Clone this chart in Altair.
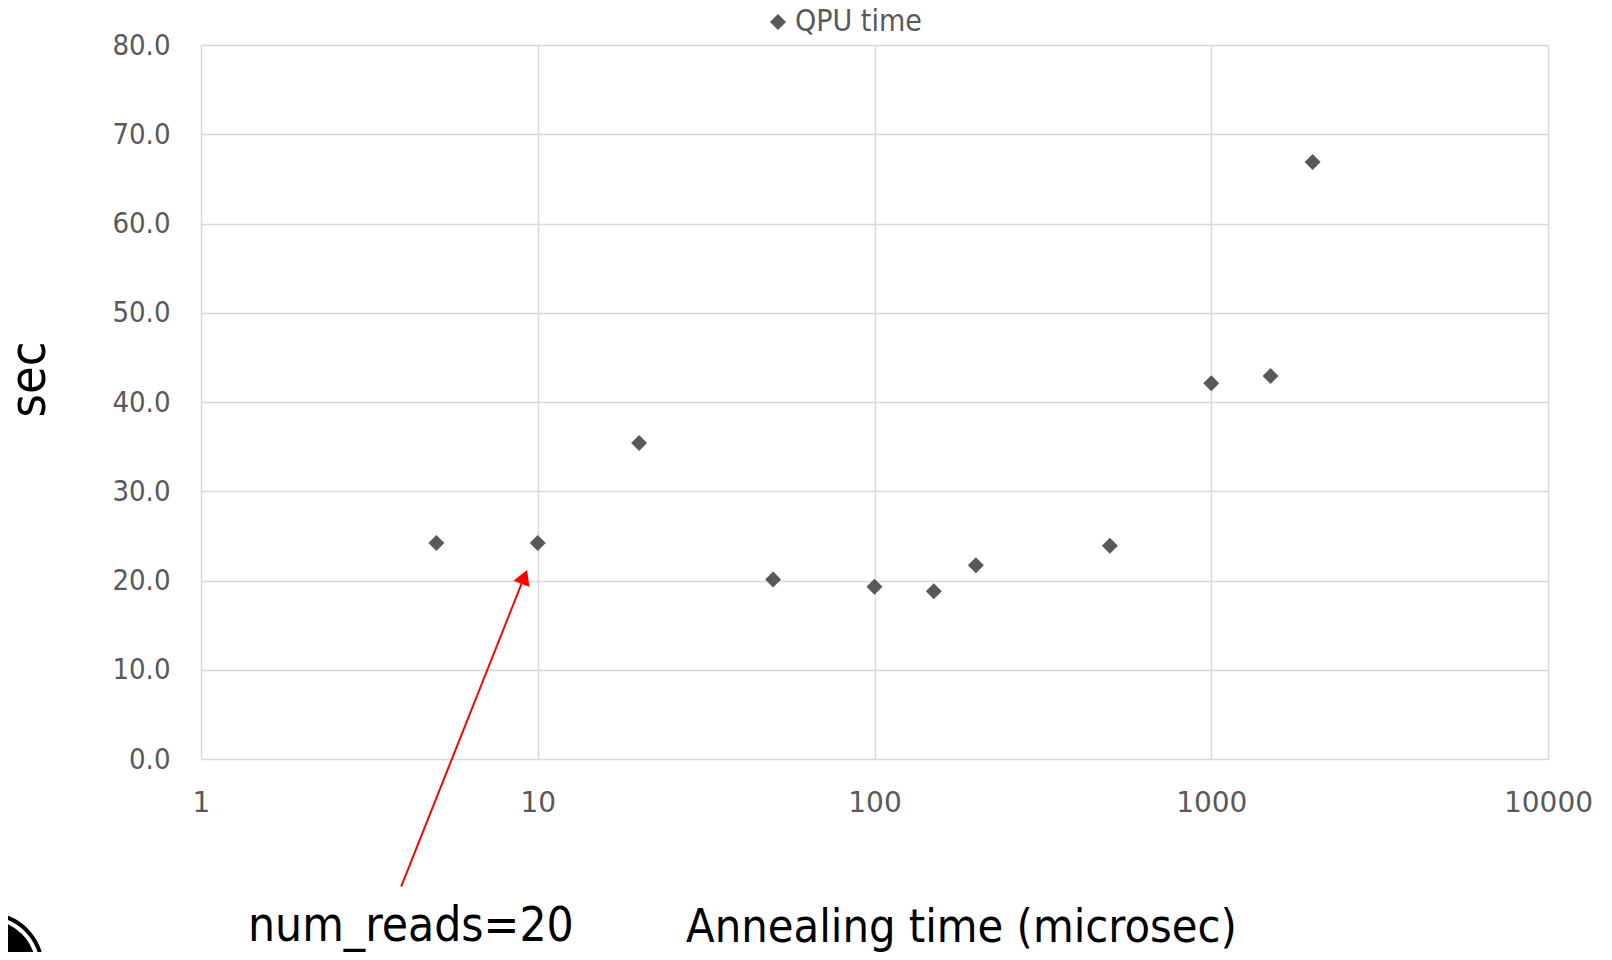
import altair as alt
import pandas as pd

# ---- data ----
anneal_time = [5, 10, 20, 50, 100, 150, 200, 500, 1000, 1500, 2000]
qpu_time = [24.2, 24.2, 35.4, 20.1, 19.3, 18.8, 21.7, 23.9, 42.1, 42.9, 66.9]
series_name = ["QPU time"] * len(anneal_time)

x_ticks = [1, 10, 100, 1000, 10000]
y_ticks = [0, 10, 20, 30, 40, 50, 60, 70, 80]

# annotation (arrow) in data coordinates
arrow_x = [3.93, 9.12]
arrow_y = [-14.3, 20.4]
arrow_head_x = [9.12]
arrow_head_y = [20.4]
note_x = [4.2]
note_y = [-20.4]
note_text = ["num_reads=20"]

FONT = "DejaVu Sans Condensed, DejaVu Sans"
XFONT = "DejaVu Sans"
GRID = "#d9d9d9"
GRAY = "#595959"
W, H = 1347, 714
X_TITLE = "Annealing time (microsec)"
Y_TITLE = "sec"

df = pd.DataFrame({"anneal": anneal_time, "qpu": qpu_time, "series": series_name})
arrow_df = pd.DataFrame({"anneal": arrow_x, "qpu": arrow_y})
head_df = pd.DataFrame({"anneal": arrow_head_x, "qpu": arrow_head_y})
note_df = pd.DataFrame({"anneal": note_x, "qpu": note_y, "label": note_text})

x_scale = alt.Scale(type="log", domain=[1, 10000])
y_scale = alt.Scale(domain=[0, 80], nice=False, zero=False)

x_axis = alt.Axis(
    values=x_ticks, format="d", grid=True, gridColor=GRID, gridWidth=1.5,
    ticks=False, tickSize=0, domain=False, labelFlush=False, labelOverlap=False,
    labelFont=XFONT, labelFontSize=28, labelColor=GRAY, labelPadding=30,
    title=X_TITLE, titleFont=FONT, titleFontSize=46.5, titleFontWeight="normal",
    titleColor="black", titleX=760, titleY=182, titleBaseline="alphabetic",
    titleAlign="center",
)
y_axis = alt.Axis(
    values=y_ticks, format=".1f", grid=True, gridColor=GRID, gridWidth=1.5,
    ticks=False, tickSize=0, domain=False, labelOverlap=False,
    labelFont=FONT, labelFontSize=29, labelColor=GRAY, labelPadding=31,
    title=Y_TITLE, titleFont=FONT, titleFontSize=50, titleFontWeight="normal",
    titleColor="black", titleAngle=270, titleX=-172, titleY=334,
    titleBaseline="middle", titleAlign="center",
)

points = alt.Chart(df).mark_point(
    shape="diamond", filled=True, size=256, opacity=1
).encode(
    x=alt.X("anneal:Q", scale=x_scale, axis=x_axis, title=X_TITLE),
    y=alt.Y("qpu:Q", scale=y_scale, axis=y_axis, title=Y_TITLE),
    color=alt.Color(
        "series:N",
        scale=alt.Scale(range=[GRAY]),
        legend=alt.Legend(
            title=None, orient="none", legendX=562, legendY=-38,
            symbolType="diamond", symbolSize=256, symbolFillColor=GRAY,
            symbolStrokeWidth=0, labelFont=FONT, labelFontSize=30,
            labelColor=GRAY, labelOffset=2, padding=0,
        ),
    ),
)

arrow_line = alt.Chart(arrow_df).mark_line(
    color="#ff0000", strokeWidth=2, clip=False
).encode(
    x=alt.X("anneal:Q", scale=x_scale, title=X_TITLE),
    y=alt.Y("qpu:Q", scale=y_scale, title=Y_TITLE),
)

arrow_head = alt.Chart(head_df).mark_point(
    shape="triangle-up", filled=True, size=300, color="#ff0000", opacity=1,
    angle=21.7, clip=False
).encode(
    x=alt.X("anneal:Q", scale=x_scale, title=X_TITLE),
    y=alt.Y("qpu:Q", scale=y_scale, title=Y_TITLE),
)

note = alt.Chart(note_df).mark_text(
    font=FONT, fontSize=47.5, color="black", align="center",
    baseline="alphabetic", clip=False
).encode(
    x=alt.X("anneal:Q", scale=x_scale, title=X_TITLE),
    y=alt.Y("qpu:Q", scale=y_scale, title=Y_TITLE),
    text="label:N",
)

# partial circular logo in the bottom-left corner (decoration)
logo_df = pd.DataFrame({"k": [0]})
LX, LY = -213, 923
logo_outer = alt.Chart(logo_df).mark_point(
    shape="circle", filled=True, color="black", size=12544, opacity=1
).encode(x=alt.value(LX), y=alt.value(LY))
logo_gap = alt.Chart(logo_df).mark_point(
    shape="circle", filled=True, color="white", size=10816, opacity=1
).encode(x=alt.value(LX), y=alt.value(LY))
logo_inner = alt.Chart(logo_df).mark_point(
    shape="circle", filled=True, color="black", size=9216, opacity=1
).encode(x=alt.value(LX), y=alt.value(LY))

chart = alt.layer(
    points, arrow_line, arrow_head, note, logo_outer, logo_gap, logo_inner
).properties(
    width=W, height=H,
    autosize=alt.AutoSizeParams(type="none"),
    padding={"left": 193, "top": 37, "right": 50, "bottom": 193},
).configure_view(stroke=None).configure(background="white")

chart.save("out.html", embed_options={"renderer": "svg", "actions": False})
